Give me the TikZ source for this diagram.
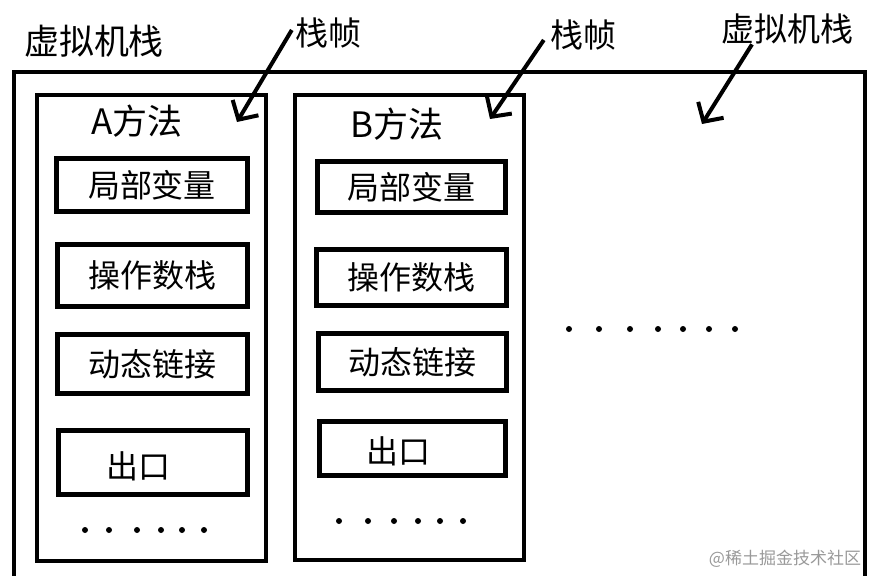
\documentclass[tikz,border=0pt]{standalone}
\usepackage{fontspec}
\newfontfamily\cjk{Noto Sans CJK SC}
\usetikzlibrary{arrows.meta}

\begin{document}
\begin{tikzpicture}[x = 1pt, y = -1pt,
        framebox/.style = {draw, line width = 4pt, minimum width = 229pt},
        slot/.style = {draw, line width = 5pt, font = \cjk\fontsize{32}{36}\selectfont},
        every label/.style = {font = \cjk\fontsize{32}{36}\selectfont},
        tag/.style = {inner sep = 0pt, font = \cjk\fontsize{33}{38}\selectfont},
        pointer/.style = {line width = 4pt, -{Straight Barb[length = 14pt, width = 30pt]}}]
            \useasboundingbox (0, 0) rectangle (871, 576);
            \clip (0, 0) rectangle (871, 576);
            \draw [line width = 4pt] (14, 72) rectangle (865, 600);
            \node [tag, font = \cjk\fontsize{35}{40}\selectfont] (vm) at (94, 41) {虚拟机栈};

            % frame A
            \node [framebox, minimum height = 466pt] (fA) at (151.5, 328) {};
            \node [tag, font = \cjk\fontsize{35}{40}\selectfont] (mA) at (137, 121) {A方法};
            \node [slot, minimum width = 191pt, minimum height = 53pt] (A1) at (152, 185) {局部变量};
            \node [slot, minimum width = 190pt, minimum height = 62pt] (A2) at (152.5, 275.5) {操作数栈};
            \node [slot, minimum width = 190pt, minimum height = 59pt] (A3) at (152.5, 364) {动态链接};
            \node [slot, minimum width = 189pt, minimum height = 64pt,
                label = {[xshift = -15pt, yshift = -4pt]center:出口}] (A4) at (153, 462.5) {};
            \foreach \x in {85, 109, 137, 161, 182, 204}
                \fill (\x, 530) circle (3pt);

            % frame B
            \node [framebox, minimum width = 229.5pt, minimum height = 465pt] (fB) at (409.25, 327.5) {};
            \node [tag, font = \cjk\fontsize{35}{40}\selectfont] (mB) at (397, 124) {B方法};
            \node [slot, minimum width = 188pt, minimum height = 51pt] (B1) at (411.5, 187) {局部变量};
            \node [slot, minimum width = 190pt, minimum height = 56pt] (B2) at (411.5, 277.5) {操作数栈};
            \node [slot, minimum width = 188pt, minimum height = 57pt] (B3) at (412.5, 362) {动态链接};
            \node [slot, minimum width = 186pt, minimum height = 54pt,
                label = {[xshift = -14pt, yshift = -3pt]center:出口}] (B4) at (412.5, 448.5) {};
            \foreach \x in {339, 368, 394, 418, 440, 463}
                \fill (\x, 521) circle (3pt);

            % more frames
            \foreach \x in {569, 599, 630, 658, 683, 709, 735}
                \fill (\x, 329) circle (3pt);

            % labels and arrows
            \node [tag] (k1) at (328, 33) {栈帧};
            \node [tag] (k2) at (583, 35) {栈帧};
            \node [tag] (k3) at (787, 29) {虚拟机栈};
            \coordinate (t1) at (237, 122);
            \coordinate (t2) at (490, 119);
            \coordinate (t3) at (702, 124);
            \draw [pointer] ([shift = {(-3pt, 3pt)}]k1.west) -- (t1);
            \draw [pointer] ([shift = {(-6pt, -5pt)}]k2.west) -- (t2);
            \draw [pointer] ([xshift = -35pt]k3.south) -- (t3);

            \node [inner sep = 0pt, text = black!40, font = \cjk\fontsize{17}{20}\selectfont] (wm) at (785, 559) {@稀土掘金技术社区};
        \end{tikzpicture}
\end{document}
